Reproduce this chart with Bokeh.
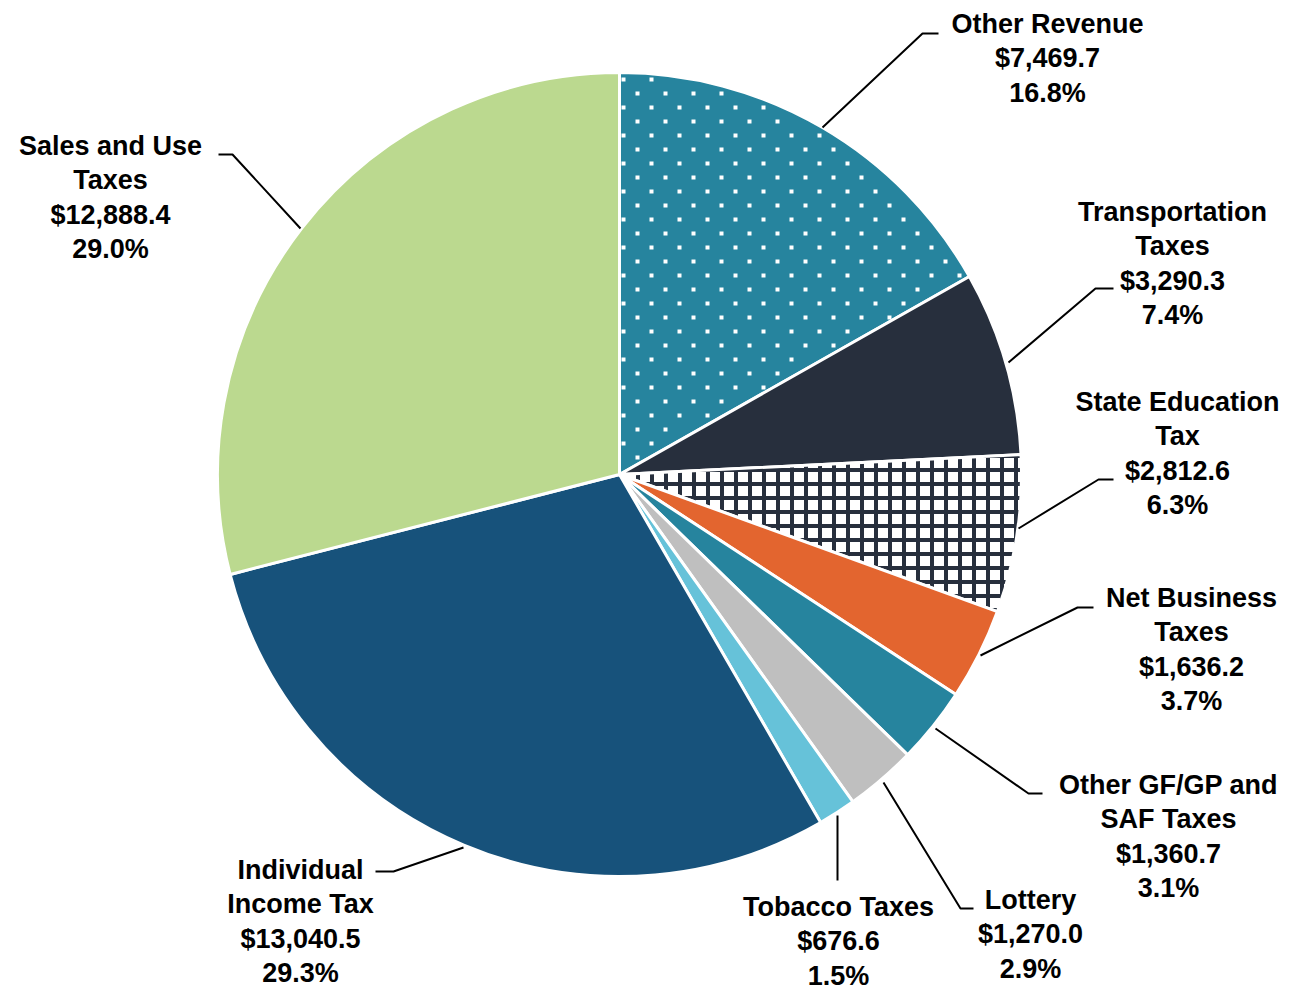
from bokeh.plotting import figure
from bokeh.models import Range1d, ColumnDataSource
from bokeh.embed import file_html
from bokeh.resources import INLINE
from bokeh.core.properties import value
import math

# ---- data ----
categories = ["Other Revenue", "Transportation Taxes", "State Education Tax",
              "Net Business Taxes", "Other GF/GP and SAF Taxes", "Lottery",
              "Tobacco Taxes", "Individual Income Tax", "Sales and Use Taxes"]
amounts = [7469.7, 3290.3, 2812.6, 1636.2, 1360.7, 1270.0, 676.6, 13040.5, 12888.4]
percents = [16.8, 7.4, 6.3, 3.7, 3.1, 2.9, 1.5, 29.3, 29.0]
name_lines = [["Other Revenue"], ["Transportation", "Taxes"], ["State Education", "Tax"],
              ["Net Business", "Taxes"], ["Other GF/GP and", "SAF Taxes"], ["Lottery"],
              ["Tobacco Taxes"], ["Individual", "Income Tax"], ["Sales and Use", "Taxes"]]

# ---- styles ----
fill_colors = ["#26849E", "#272F3D", "#FFFFFF", "#E3652F", "#26849E", "#BFBFBF",
               "#66C2D9", "#17527B", "#BBD98F"]
hatch_patterns = [" ", " ", "+", " ", " ", " ", " ", " ", " "]
hatch_colors = ["#FFFFFF", "#FFFFFF", "#272F3D", "#FFFFFF", "#FFFFFF", "#FFFFFF",
                "#FFFFFF", "#FFFFFF", "#FFFFFF"]
DOTTED_SLICE = 0          # slice drawn with a staggered white dot texture
DOT_DX, DOT_DY, DOT_SIZE = 28, 14, 4
DOT_ORIGIN = (623, 107)

# ---- layout (pixel positions, origin top-left) ----
W, H = 1288, 991
CX, CY, R = 619, 474, 402
label_pos = [(1047, 23), (1172, 211), (1177, 401), (1191, 597), (1168, 784),
             (1030, 899), (838, 906), (300, 869), (110, 145)]
LINE_STEP = 34.5
leaders = [
    [(822, 127), (922, 33), (938, 33)],
    [(1008, 362), (1095, 288), (1113, 288)],
    [(1018, 528), (1098, 479), (1113, 479)],
    [(980, 655), (1077, 607), (1093, 607)],
    [(935, 728), (1028, 793), (1042, 793)],
    [(883, 782), (960, 908), (973, 908)],
    [(837, 815), (837, 880)],
    [(463, 847), (393, 871), (375, 871)],
    [(300, 228), (232, 154), (218, 154)],
]


def Y(y):
    return H - y


p = figure(width=W, height=H, x_range=Range1d(0, W), y_range=Range1d(0, H),
           output_backend="svg", toolbar_location=None, min_border=0)
p.axis.visible = False
p.grid.visible = False
p.outline_line_color = None
p.background_fill_color = "white"
p.border_fill_color = "white"

total = sum(amounts)
starts, ends = [], []
cum = 0.0
for a in amounts:
    e = math.pi / 2 - 2 * math.pi * cum / total
    cum += a
    s = math.pi / 2 - 2 * math.pi * cum / total
    starts.append(s)
    ends.append(e)

src = ColumnDataSource(dict(x=[CX] * len(amounts), y=[Y(CY)] * len(amounts),
                            start=starts, end=ends, fill=fill_colors,
                            hp=hatch_patterns, hc=hatch_colors))
p.wedge(x="x", y="y", radius=R, start_angle="start", end_angle="end", source=src,
        fill_color="fill", line_color="white", line_width=3,
        hatch_pattern="hp", hatch_color="hc", hatch_scale=14, hatch_weight=4)

# staggered square-dot texture inside the dotted slice
s0, e0 = starts[DOTTED_SLICE], ends[DOTTED_SLICE]
dx_list, dy_list = [], []
ox, oy = DOT_ORIGIN
for r in range(-40, 40):
    py = oy + r * DOT_DY
    shift = 0 if r % 2 == 0 else DOT_DX / 2
    for c in range(-40, 40):
        px = ox + shift + c * DOT_DX
        ddx, ddy = px - CX, CY - py
        d = math.hypot(ddx, ddy)
        if d < 4 or d > R - 4:
            continue
        th = math.atan2(ddy, ddx)
        if not (s0 <= th <= e0):
            continue
        if d * math.sin(th - s0) < 3 or d * math.sin(e0 - th) < 2:
            continue
        dx_list.append(px)
        dy_list.append(Y(py))
p.scatter(x=dx_list, y=dy_list, marker="square", size=DOT_SIZE,
          fill_color="white", line_color=None)

# leader lines
p.multi_line(xs=[[pt[0] for pt in l] for l in leaders],
             ys=[[Y(pt[1]) for pt in l] for l in leaders],
             line_color="black", line_width=2)

# labels
tx, ty, tt = [], [], []
for i in range(len(categories)):
    lines = name_lines[i] + ["${:,.1f}".format(amounts[i]), "{:.1f}%".format(percents[i])]
    x0, y0 = label_pos[i]
    for j, ln in enumerate(lines):
        tx.append(x0)
        ty.append(Y(y0 + j * LINE_STEP))
        tt.append(ln)
p.text(x=tx, y=ty, text=tt, text_font=value("Liberation Sans"), text_font_style="bold",
       text_font_size="27px", text_align="center", text_baseline="middle",
       text_color="black")

open("out.html", "w").write(file_html(p, INLINE))
